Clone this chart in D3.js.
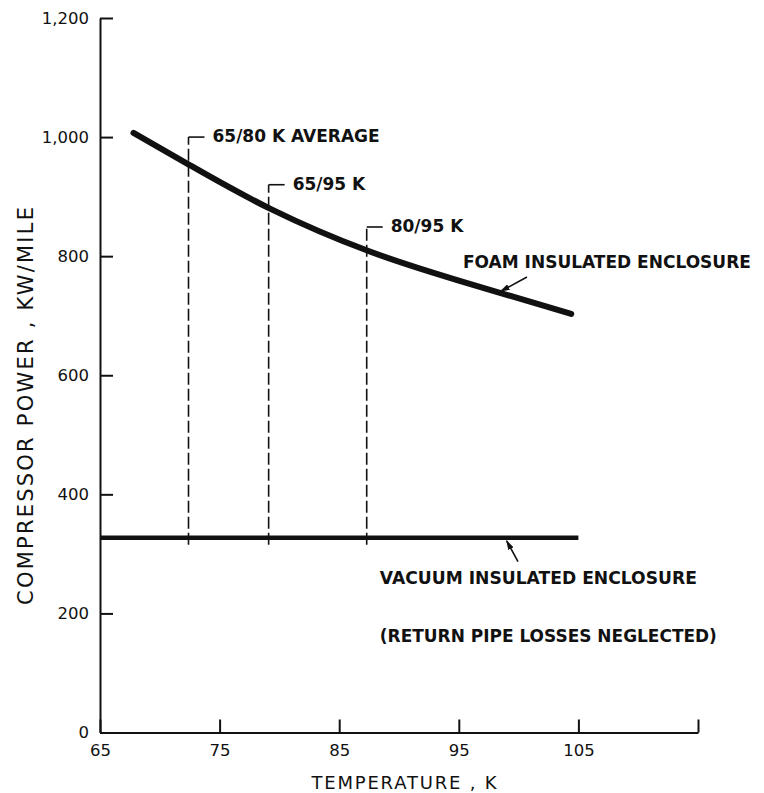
<!DOCTYPE html>
<html>
<head>
<meta charset="utf-8">
<script src="https://cdn.jsdelivr.net/npm/d3@7"></script>
<style>
    html, body { margin: 0; padding: 0; background: #ffffff; }
    svg { display: block; }
    text { font-family: "DejaVu Sans", sans-serif; fill: #111111; }
</style>
</head>
<body>
<svg id="svg"></svg>
<script>
// Chart data
var foamTemperature = [67.8, 72.5, 79.3, 87.4, 95.0, 104.4];
var foamPower       = [1007, 953, 879, 809, 759, 703];

var vacuumTemperature = [65, 105];
var vacuumPower       = [327, 327];

var averageLabels      = ["65/80 K AVERAGE", "65/95 K", "80/95 K"];
var averageTemperature = [72.4, 79.1, 87.3];
var averageTop         = [1000, 920, 849];

var xTicks = [65, 75, 85, 95, 105, 115];
var xTickLabels = ["65", "75", "85", "95", "105", ""];
var yTicks = [0, 200, 400, 600, 800, 1000, 1200];

function renderChart()
{
    const width = 764;
    const height = 793;

    const svg = d3.select('#svg')
        .attr("width", width)
        .attr("height", height);

    const x = d3.scaleLinear().domain([65, 115]).range([100, 698]);
    const y = d3.scaleLinear().domain([0, 1200]).range([732.5, 18]);

    // Arrow head used by the two curve labels
    svg.append("defs").append("marker")
        .attr("id", "arrow")
        .attr("viewBox", "0 0 10 6")
        .attr("refX", 9)
        .attr("refY", 3)
        .attr("markerWidth", 10)
        .attr("markerHeight", 6)
        .attr("markerUnits", "userSpaceOnUse")
        .attr("orient", "auto")
        .append("path")
        .attr("d", "M0,0 L10,3 L0,6 Z")
        .attr("fill", "#111");

    // Axes, ticks point inward like the original drawing
    const xAxis = d3.axisBottom(x)
        .tickValues(xTicks)
        .tickFormat((d, i) => xTickLabels[i])
        .tickSizeInner(-13)
        .tickSizeOuter(0)
        .tickPadding(12);

    const yAxis = d3.axisLeft(y)
        .tickValues(yTicks)
        .tickFormat(d3.format(","))
        .tickSizeInner(-13)
        .tickSizeOuter(0)
        .tickPadding(11);

    const gx = svg.append("g")
        .attr("transform", `translate(0,${y(0)})`)
        .call(xAxis);
    const gy = svg.append("g")
        .attr("transform", `translate(${x(65)},0)`)
        .call(yAxis);

    [gx, gy].forEach(g => {
        g.select(".domain").attr("stroke", "#111").attr("stroke-width", 2);
        g.selectAll(".tick line").attr("stroke", "#111").attr("stroke-width", 2);
        g.selectAll(".tick text")
            .attr("font-size", 16.5)
            .attr("font-family", "DejaVu Sans, sans-serif")
            .attr("fill", "#111");
    });

    // Axis titles
    svg.append("text")
        .attr("x", 404)
        .attr("y", 789)
        .attr("text-anchor", "middle")
        .attr("font-size", 18)
        .attr("textLength", 185)
        .attr("lengthAdjust", "spacing")
        .text("TEMPERATURE , K");

    svg.append("text")
        .attr("transform", "translate(33,406) rotate(-90)")
        .attr("text-anchor", "middle")
        .attr("font-size", 21)
        .attr("textLength", 398)
        .attr("lengthAdjust", "spacing")
        .text("COMPRESSOR POWER , KW/MILE");

    // Dashed average-temperature markers with their labels
    const averages = averageLabels.map((label, i) => ({
        label: label, t: averageTemperature[i], top: averageTop[i]
    }));

    const marker = svg.append("g").selectAll("g")
        .data(averages)
        .join("g");

    marker.append("line")
        .attr("x1", d => x(d.t))
        .attr("x2", d => x(d.t))
        .attr("y1", y(vacuumPower[0]) + 7)
        .attr("y2", d => y(d.top))
        .attr("stroke", "#111")
        .attr("stroke-width", 1.6)
        .attr("stroke-dasharray", "12,4");

    marker.append("line")
        .attr("x1", d => x(d.t))
        .attr("x2", d => x(d.t) + 16)
        .attr("y1", d => y(d.top))
        .attr("y2", d => y(d.top))
        .attr("stroke", "#111")
        .attr("stroke-width", 1.6);

    marker.append("text")
        .attr("x", d => x(d.t) + 24)
        .attr("y", d => y(d.top) + 5)
        .attr("font-size", 17)
        .attr("font-weight", "bold")
        .text(d => d.label);

    // The two curves
    const line = d3.line()
        .x(d => x(d[0]))
        .y(d => y(d[1]));

    svg.append("path")
        .datum(d3.zip(vacuumTemperature, vacuumPower))
        .attr("d", line)
        .attr("fill", "none")
        .attr("stroke", "#111")
        .attr("stroke-width", 4.5);

    svg.append("path")
        .datum(d3.zip(foamTemperature, foamPower))
        .attr("d", line.curve(d3.curveNatural))
        .attr("fill", "none")
        .attr("stroke", "#111")
        .attr("stroke-width", 6)
        .attr("stroke-linecap", "round");

    // Curve labels with leader arrows
    svg.append("text")
        .attr("x", x(95.35))
        .attr("y", y(780))
        .attr("font-size", 17)
        .attr("font-weight", "bold")
        .text("FOAM INSULATED ENCLOSURE");

    svg.append("line")
        .attr("x1", x(100.7)).attr("y1", y(765))
        .attr("x2", x(98.5)).attr("y2", y(741))
        .attr("stroke", "#111")
        .attr("stroke-width", 1.6)
        .attr("marker-end", "url(#arrow)");

    svg.append("text")
        .attr("x", x(88.4))
        .attr("y", y(250))
        .attr("font-size", 17)
        .attr("font-weight", "bold")
        .attr("textLength", 317)
        .attr("lengthAdjust", "spacingAndGlyphs")
        .text("VACUUM INSULATED ENCLOSURE");

    svg.append("line")
        .attr("x1", x(99.95)).attr("y1", y(287))
        .attr("x2", x(99.0)).attr("y2", y(322))
        .attr("stroke", "#111")
        .attr("stroke-width", 1.6)
        .attr("marker-end", "url(#arrow)");

    svg.append("text")
        .attr("x", x(88.4))
        .attr("y", y(152))
        .attr("font-size", 17)
        .attr("font-weight", "bold")
        .attr("textLength", 337)
        .attr("lengthAdjust", "spacingAndGlyphs")
        .text("(RETURN PIPE LOSSES NEGLECTED)");
}

renderChart();
</script>
</body>
</html>
